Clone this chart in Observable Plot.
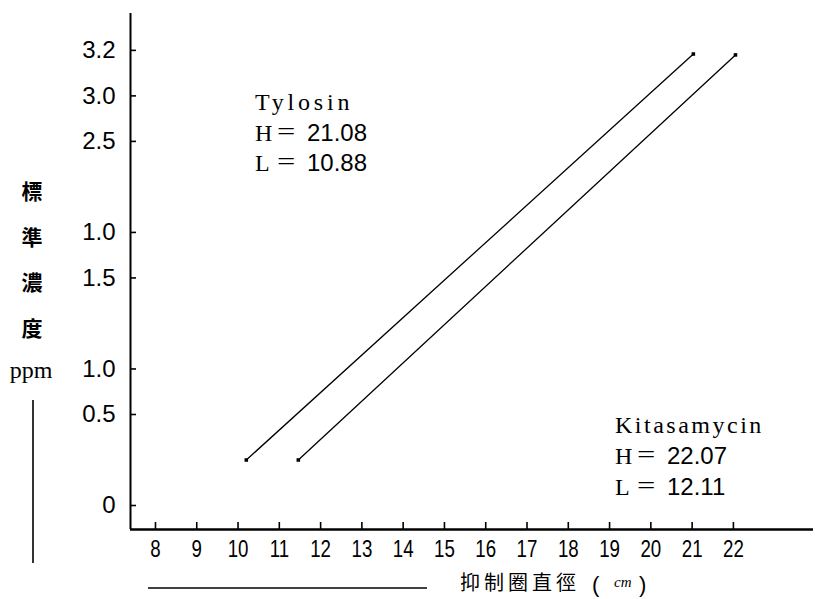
<!DOCTYPE html>
<html>
<head>
<meta charset="utf-8">
<script src="https://cdn.jsdelivr.net/npm/d3@7"></script>
<script src="https://cdn.jsdelivr.net/npm/@observablehq/plot@0.6"></script>
<style>
  body { margin: 0; background: #fff; }
  #chart { width: 815px; height: 599px; }
</style>
</head>
<body>
<div id="chart"></div>
<script>
// ---- data ----
const xTicks = [8, 9, 10, 11, 12, 13, 14, 15, 16, 17, 18, 19, 20, 21, 22];
// y axis is drawn on an evenly spaced position scale; ticks sit on these positions
const yTickPos = [0, 2, 3, 5, 6, 8, 9, 10];
const yTickLabels = ["0", "0.5", "1.0", "1.5", "1.0", "2.5", "3.0", "3.2"];

const seriesNames = ["Tylosin", "Kitasamycin"];
const xLow = [10.20, 11.46];   // inhibition-zone diameter at low standard
const xHigh = [21.03, 22.05];  // inhibition-zone diameter at high standard
const yLow = [1.0, 1.0];
const yHigh = [9.92, 9.90];
const hValues = ["21.08", "22.07"];
const lValues = ["10.88", "12.11"];

const yTitleChars = ["標", "準", "濃", "度"];
const yTitleUnit = "ppm";
const xTitle = "抑制圈直徑";
const xTitleUnit = "cm";

const lineData = seriesNames.flatMap((s, i) => [
  {series: s, x: xLow[i], y: yLow[i]},
  {series: s, x: xHigh[i], y: yHigh[i]}
]);

const xDomain = [7.395, 23.94];
const yDomain = [-0.527, 10.81];

const numFont = "'Liberation Sans', 'DejaVu Sans', sans-serif";
const serifFont = "'Liberation Serif', 'DejaVu Serif', serif";
const cjkFont = "'Noto Sans CJK TC', 'Noto Sans CJK SC', sans-serif";

const labelRows = [
  {name: seriesNames[0], h: hValues[0], l: lValues[0], x0: 255, base: 110, step: 30.5, ls: 3.8},
  {name: seriesNames[1], h: hValues[1], l: lValues[1], x0: 615, base: 433, step: 31, ls: 2.5}
];

const plot = Plot.plot({
  width: 815,
  height: 599,
  marginLeft: 130,
  marginRight: 2,
  marginTop: 13,
  marginBottom: 70,
  style: {background: "#fff", color: "#000", fontFamily: numFont, overflow: "visible"},
  x: {domain: xDomain},
  y: {domain: yDomain},
  marks: [
    Plot.axisX({ticks: xTicks, tickSize: -7, tickPadding: 17, fontSize: 24, label: null,
      tickFormat: d => String(d), fontFamily: numFont, strokeWidth: 1.6}),
    Plot.axisY({ticks: yTickPos, tickSize: -6, tickPadding: 21, fontSize: 24, label: null,
      tickFormat: d => yTickLabels[yTickPos.indexOf(d)], fontFamily: numFont, strokeWidth: 1.6}),
    Plot.ruleX([xDomain[0]], {stroke: "#000", strokeWidth: 2}),
    Plot.ruleY([yDomain[0]], {stroke: "#000", strokeWidth: 2.5}),
    Plot.line(lineData, {x: "x", y: "y", z: "series", stroke: "#000", strokeWidth: 1.3}),
    Plot.dot(lineData, {x: "x", y: "y", r: 2, fill: "#000", stroke: null, symbol: "square"})
  ]
});
document.getElementById("chart").appendChild(plot);

// annotation texts (mixed styles)
const svg = d3.select(plot);
const g = svg.append("g").attr("fill", "#000").attr("text-anchor", "start");
labelRows.forEach(r => {
  const x0 = r.x0;
  g.append("text").attr("x", x0).attr("y", r.base)
    .attr("font-family", serifFont).attr("font-size", 24).attr("letter-spacing", r.ls)
    .text(r.name);
  [["H", r.h], ["L", r.l]].forEach(([k, v], j) => {
    const y = r.base + r.step * (j + 1);
    g.append("text").attr("x", x0).attr("y", y)
      .attr("font-family", serifFont).attr("font-size", 24).text(k);
    g.append("text").attr("x", x0 + 22).attr("y", y - 1).attr("class", "eq")
      .attr("font-family", serifFont).attr("font-size", 26).text("=");
    g.append("text").attr("x", x0 + 52).attr("y", y).attr("class", "num")
      .attr("font-family", numFont).attr("font-size", 24).text(v);
  });
});

// y-axis title (vertical)
const yt = svg.append("g").attr("text-anchor", "middle");
yTitleChars.forEach((c, i) => {
  yt.append("text").attr("x", 32).attr("y", 199 + i * 45.6)
    .attr("font-family", cjkFont).attr("font-size", 21).attr("font-weight", 700).text(c);
});
yt.append("text").attr("x", 31).attr("y", 378)
  .attr("font-family", serifFont).attr("font-size", 24).text(yTitleUnit);
svg.append("line").attr("x1", 33).attr("x2", 33).attr("y1", 400).attr("y2", 563)
  .attr("stroke", "#000").attr("stroke-width", 1.6);

// x-axis title
svg.append("line").attr("x1", 148).attr("x2", 427).attr("y1", 588).attr("y2", 588)
  .attr("stroke", "#000").attr("stroke-width", 1.4);
const xt = svg.append("g").attr("text-anchor", "start");
xt.append("text").attr("x", 460).attr("y", 590).attr("font-family", cjkFont)
  .attr("font-size", 20).attr("letter-spacing", 4).text(xTitle);
xt.append("text").attr("x", 592).attr("y", 592).attr("font-family", numFont)
  .attr("font-size", 22).text("(");
xt.append("text").attr("x", 614).attr("y", 587).attr("font-family", serifFont)
  .attr("font-size", 15).attr("font-style", "italic").text(xTitleUnit);
xt.append("text").attr("x", 639).attr("y", 592).attr("font-family", numFont)
  .attr("font-size", 22).text(")");

// condense the x-axis digits to match the narrow face of the reference
svg.selectAll("g[aria-label='x-axis tick label'] text")
  .each(function() {
    const w = this.getComputedTextLength();
    this.setAttribute("textLength", (w * 0.78).toFixed(1));
    this.setAttribute("lengthAdjust", "spacingAndGlyphs");
  });
svg.selectAll("text.eq").each(function() {
  const w = this.getComputedTextLength();
  this.setAttribute("textLength", (w * 1.25).toFixed(1));
  this.setAttribute("lengthAdjust", "spacingAndGlyphs");
});
</script>
</body>
</html>
